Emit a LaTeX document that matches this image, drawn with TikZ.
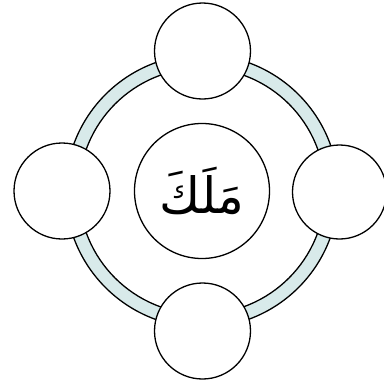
\documentclass[tikz,border=0pt]{standalone}
\usepackage{fontspec}
\newfontfamily\arabicfont[Script=Arabic]{DejaVu Sans}
\TeXXeTstate=1
\definecolor{ringfill}{RGB}{216,234,234}

\begin{document}
\begin{tikzpicture}[x=1pt,y=1pt,
    bubble/.style={circle,draw,line width=1.3pt,fill=white,inner sep=0pt}]
          \useasboundingbox (0,0) rectangle (384,-381);
          \coordinate (o) at (202,-191);
          \fill[ringfill,even odd rule] (o) circle (136.5) (o) circle (123);
          \draw[line width=1.3pt] (o) circle (136.5);
          \draw[line width=1.3pt] (o) circle (123);
          \node[bubble,minimum size=135] (mid) at (o)
            {\arabicfont\fontsize{50}{60}\selectfont\beginR مَلَكَ\endR};
          \node[bubble,minimum size=96] (top) at (202.5,-51) {};
          \node[bubble,minimum size=96] (bot) at (202.5,-331) {};
          \node[bubble,minimum size=96] (lft) at (62,-191) {};
          \node[bubble,minimum size=94] (rgt) at (339.5,-192) {};
        \end{tikzpicture}
\end{document}
